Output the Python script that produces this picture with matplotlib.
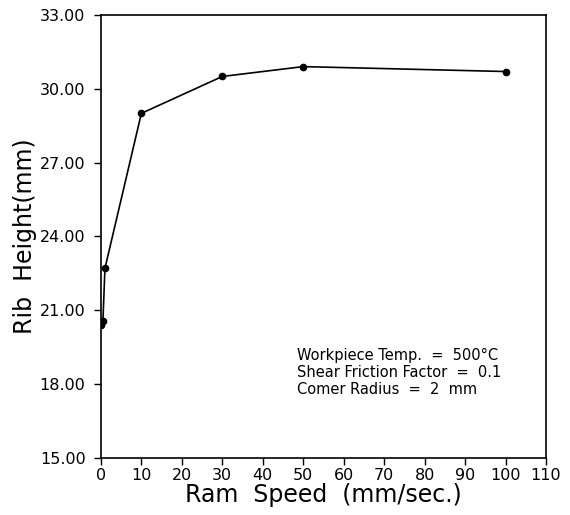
import numpy as np
import matplotlib
matplotlib.use('Agg')
import matplotlib.pyplot as plt
from matplotlib.ticker import FormatStrFormatter

# ram speed (mm/sec) and resulting rib height (mm)
ram_speed = [0.1, 0.5, 1, 10, 30, 50, 100]
rib_height = [20.4, 20.55, 22.7, 29.0, 30.5, 30.9, 30.7]

x_ticks = list(range(0, 111, 10))
y_ticks = [15, 18, 21, 24, 27, 30, 33]

notes = ['Workpiece Temp.  =  500\u00b0C',
         'Shear Friction Factor  =  0.1',
         'Comer Radius  =  2  mm']

fig = plt.figure(figsize=(5.7, 5.15), dpi=100)
ax = fig.add_axes([0.177, 0.111, 0.781, 0.860])

ax.plot(ram_speed, rib_height, color='black', lw=1.2,
        marker='o', markersize=4.5)

ax.set_xlim(0, 110)
ax.set_ylim(15, 33)
ax.set_xticks(x_ticks)
ax.set_yticks(y_ticks)
ax.yaxis.set_major_formatter(FormatStrFormatter('%.2f'))
ax.tick_params(direction='out', length=5, width=1, labelsize=11.5)
ax.tick_params(axis='y', pad=6)
ax.tick_params(axis='x', pad=2)
for s in ax.spines.values():
    s.set_linewidth(1.2)

ax.set_xlabel('Ram  Speed  (mm/sec.)', fontsize=17, labelpad=0)
ax.set_ylabel('Rib  Height(mm)', fontsize=17, labelpad=2)

# process conditions
for i, t in enumerate(notes):
    ax.text(0.44, 0.222 - i * 0.039, t, transform=ax.transAxes,
            fontsize=10.5, va='baseline', ha='left')

fig.savefig('out.png', dpi=100)
